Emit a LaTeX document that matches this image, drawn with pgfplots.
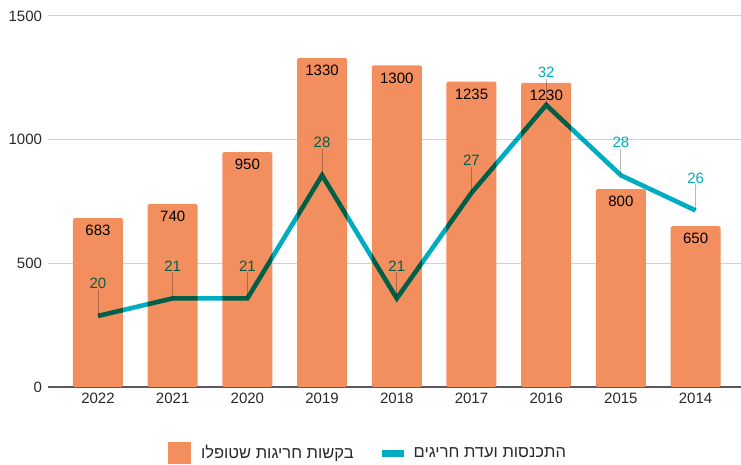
\documentclass[border=0pt]{standalone}
\usepackage{fontspec}
\setmainfont{Liberation Sans}
\newfontfamily\hebfont[Script=Hebrew]{Liberation Sans}
\TeXXeTstate=1
\usepackage{pgfplots}
\pgfplotsset{compat=1.18}
\definecolor{barorange}{RGB}{243,143,95}
\definecolor{lineteal}{RGB}{0,172,193}
\definecolor{gridgray}{RGB}{208,208,208}
\definecolor{zerogray}{RGB}{90,90,90}
\definecolor{ticktext}{RGB}{40,40,40}
\begin{document}
\begin{tikzpicture}
\useasboundingbox (0,0) rectangle (741pt,465pt);
\pgfplotsset{
  common/.style={
    at={(48pt,78pt)}, anchor=south west,
    scale only axis, width=693pt, height=371pt,
    xmin=-0.669, xmax=8.608,
    clip=false,
    /pgf/number format/assume math mode=true,
    /pgf/number format/1000 sep={},
  }
}
\begin{axis}[
  common,
  ymin=0, ymax=1500,
  ytick={0,500,1000,1500},
  xtick={0,...,8},
  xticklabels={2022,2021,2020,2019,2018,2017,2016,2015,2014},
  axis line style={draw=none},
  major tick length=0pt,
  ymajorgrids,
  grid style={gridgray, line width=1pt},
  extra y ticks={0},
  extra y tick labels={},
  extra y tick style={grid style={zerogray, line width=1.3pt}},
  tick label style={font=\fontsize{15}{17}\selectfont, text=ticktext},
  xticklabel style={yshift=-2.5pt},
  yticklabel style={xshift=-2.5pt},
]
\addplot[ybar, bar width=50pt, bar shift=0pt, fill=barorange, draw=none,
  rounded corners=1.5pt,
  nodes near coords,
  every node near coord/.append style={anchor=north, yshift=-7pt, inner sep=0pt,
    font=\fontsize{15}{17}\selectfont, text=black}]
  coordinates {(0,683) (1,740) (2,950) (3,1330) (4,1300) (5,1235) (6,1230) (7,800) (8,650)};
\end{axis}
\begin{scope}[blend mode=multiply]
\begin{axis}[
  common,
  hide axis,
  ymin=15.96, ymax=37.06,
  legend columns=2,
  legend style={draw=none, fill=none, at={(0.1732,-0.178)}, anchor=west,
    inner sep=0pt, outer sep=0pt,
    font=\fontsize{16.5}{18}\selectfont\hebfont, text=ticktext,
    /tikz/every odd column/.append style={column sep=10pt},
    /tikz/every even column/.append style={column sep=28pt},
    nodes={inner sep=0pt}},
]
\addlegendimage{legend image code/.code={\fill[barorange, draw=none] (0pt,-11pt) rectangle (23pt,11pt);}}
\addlegendentry{\beginR בקשות חריגות שטופלו\endR}
\addlegendimage{legend image code/.code={\fill[lineteal, draw=none] (0pt,-3.5pt) rectangle (22pt,3.5pt);}}
\addlegendentry{\beginR התכנסות ועדת חריגים\endR}
\addplot[lineteal, line width=4.6pt, line join=miter, forget plot,
  error bars/.cd, y dir=plus, y fixed=1.48, error mark=none,
  error bar style={black!28, line width=0.8pt}]
  coordinates {(0,20) (1,21) (2,21) (3,28) (4,21) (5,27) (6,32) (7,28) (8,26)};
\addplot[draw=none, forget plot,
  nodes near coords,
  every node near coord/.append style={anchor=south, yshift=27pt, inner sep=0pt,
    font=\fontsize{15}{17}\selectfont, text=lineteal}]
  coordinates {(0,20) (1,21) (2,21) (3,28) (4,21) (5,27) (6,32) (7,28) (8,26)};
\end{axis}
\end{scope}
\end{tikzpicture}
\end{document}
